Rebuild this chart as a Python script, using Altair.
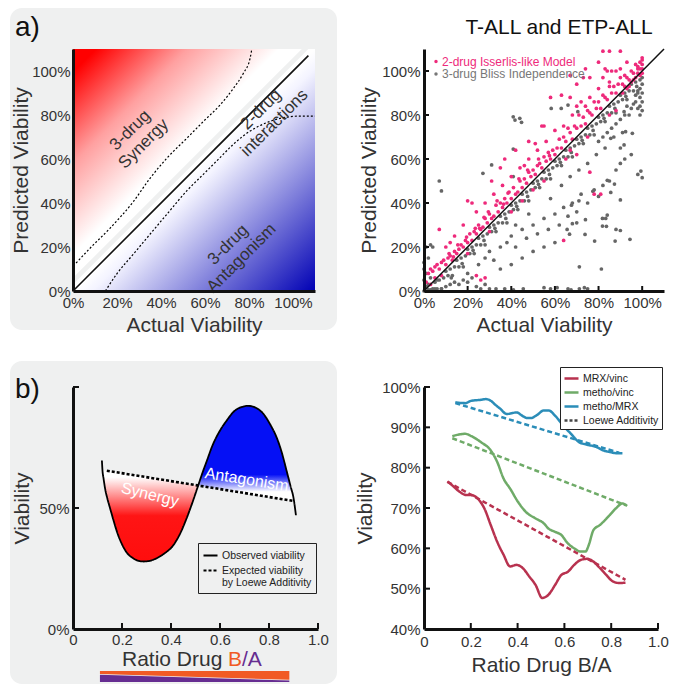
import altair as alt
import pandas as pd

FONT = "Liberation Sans"
TXT = "#333333"
BG = "#eff0f0"
PINK = "#ee2a7b"
GRAY = "#666666"

# ---------------- a) left : schematic ----------------
a_ticks = [0, 20, 40, 60, 80, 100]
diag_x = [0, 107]
diag_y = [0, 107]
syn_dash_x = [1.4, 7.7, 16.8, 27.4, 35, 42.6, 51.7, 59.2, 66.8, 72.9, 77.4, 80.5, 81.2]
syn_dash_y = [12.7, 19.4, 28.5, 40.6, 51.2, 60.3, 69.4, 77, 84.5, 92.1, 98.9, 105.8, 109.5]
ant_dash_x = [14.7, 19.8, 27.4, 35, 42.6, 51.7, 59.2, 66.8, 72.9, 80.5, 88, 95.6, 103.2, 110]
ant_dash_y = [0, 7.6, 16.7, 25.8, 34.8, 45.5, 53, 60.6, 66.7, 72.7, 76.5, 78.8, 79.5, 79.5]
red_x = [0, 104]
red_lo = [6, 110]
red_hi = [110, 110]
blue_x = [0, 107, 110]
blue_lo = [0, 0, 0]
blue_hi = [3, 110, 110]
a_labels = ["3-drug\nSynergy", "2-drug\ninteractions", "3-drug\nAntagonism"]
a_label_x = [26, 85.5, 70.5]
a_label_y = [73, 82.5, 21]

# ---------------- a) right : scatter ----------------
pink_pts = [
    (1,4),(2,8),(3,10),(4,9),(5,11),(6,12),(7,10),(8,13),(9,14),(10,12),(11,15),(12,16),(13,14),(14,18),
    (15,17),(16,19),(7,28),(5,6),(3,3),(8,7),(24,7),(26,5),(28,6),(10,20),(12,22),(14,25),(18,30),
    (17,21),(18,20),(19,23),(20,22),(21,26),(22,23),(23,27),(24,26),(25,30),(26,28),(27,29),(28,33),
    (29,31),(30,35),(31,33),(32,34),(33,39),(34,36),(35,40),(36,38),(37,42),(38,40),(39,45),(40,42),
    (41,47),(42,44),(43,45),(44,50),(45,47),(46,51),(47,49),(48,54),(49,52),(50,55),(51,53),(52,57),
    (53,58),(54,56),(55,61),(56,59),(57,63),(58,60),(59,64),(60,62),
    (19.5,24.5),(23.5,28.5),(27.5,33.5),(33.5,41),(38.5,44.5),(43.5,51),(47.5,55),(52.5,60),(57.5,61.5),
    (36.5,39.5),(29.5,36),(25.5,28.5),(15.5,21),(11.5,17),(13.5,15.5),
    (24,36),(28,40),(32,44),(36,48),(40,52),(44,56),(46,57),(48,60),(52,64),(56,68),(60,73),(20,41),
    (22,40),(31,50),(35,56),(37,60),(42,64),(48,68),(51,67),(55,75),(54,75),(63,89),(58,88),(67,88),
    (70,94),(67,98),(73,97),(74,101),(76,97),(80,104),(83,101),(84,100),(82,109),(85,109),(90,109),
    (64,23),(78,44),(67,64),(70,62),(76,54),(81,44),(50,46),(55,50),(65,60),(75,70),(85,80),(88,82),
    (30,27),(40,36),(20,17),(45,41),
    (61,65),(62,69),(63,65),(64,70),(65,68),(66,74),(67,72),(68,69),(69,75),(70,74),(71,80),(72,75),
    (73,79),(74,76),(75,82),(76,81),(77,80),(78,86),(79,83),(80,86),(81,83),(82,89),(83,88),(84,87),
    (85,93),(86,90),(87,93),(88,90),(89,94),(90,97),(91,94),(92,98),(93,97),(94,96),(95,100),(96,99),
    (97,103),(98,102),(99,101),(100,105),(100,101),(99,98),(100,99),(98,99),(97,97),(96,96),(99,104),
    (100,103),(100,106),(98,101),(95,95),(94,93),(93,92),(92,93),(91,90),(64,75),(68,80),(72,86),
    (76,88),(80,92),(85,95),(88,100),(74,84),(70,84),(82,97),(86,100),(90,101),(93,104),
]
gray_pts = [
    (2,0.5),(3,0.5),(4,1),(5,4),(6,1),(7,5),(8,1),(9,6),(10,9),(11,7),(12,10),(13,7),(14,11),(15,14),
    (16,11),(17,15),(18,11),(19,16),(20,19),(21,17),(22,20),(23,17),(24,21),(25,24),(26,21),(27,25),
    (28,21),(29,26),(30,29),(31,27),(32,30),(33,27),(34,31),(35,34),(36,31),(37,35),(38,31),(39,36),
    (40,39),(41,37),(42,40),(43,37),(44,41),(45,44),(46,41),(47,45),(48,41),(49,46),(50,49),(51,47),
    (52,50),(53,47),(54,51),(55,54),(56,51),(57,55),(58,51),(59,56),(60,59),(61,57),(62,60),(63,57),
    (64,61),(65,64),(66,61),(67,65),(68,61),(69,66),(70,69),(71,67),(72,70),(73,67),(74,71),(75,74),
    (76,71),(77,75),(78,71),(79,76),(80,79),(81,77),(82,80),(83,77),(84,81),(85,84),(86,81),(87,85),
    (88,81),(89,86),(90,89),(91,87),(92,90),(93,87),(94,91),(95,94),(96,91),(97,95),(98,91),
    (12.5,6),(17.5,12.5),(22.5,18.5),(27.5,23),(32.5,28.5),(37.5,33),(42.5,38.5),(47.5,43),(52.5,48.5),
    (57.5,53),(62.5,58.5),(67.5,63),(72.5,68.5),(77.5,73),(82.5,78.5),(87.5,83),(92.5,88.5),(97.5,93),
    (99,80),(100,82),(99,84),(100,86),(99,88),(100,90),(99,92),(100,94),(98,90),(97,86),(98,83),
    (100,97),(99,96),(97,89),(96,85),(95,83),(94,80),(93,84),(92,80),(90,78),(88,76),(86,74),(84,72),
    (82,70),(80,68),
    (0,0),(1,2),(2,3),(0,5),(1,8),(0,10),(0,13),(1,20),(3,21),(4,20),(2,15),(3,6),(5,1),(6,5),(8,1),
    (10,2),(12,3),(14,4),(16,3),(18,5),(20,4),(22,6),(24,2),(26,1),(28,3),(30,1),(33,1),(7,50),(8,45.5),
    (20,8),(25,12),(28,15),(30,18),(32,14),(35,20),(38,22),(40,25),(42,20),(45,28),(47,24),(50,30),
    (52,26),(55,33),(57,28),(60,35),(62,30),(64,38),(66,34),(68,40),(70,36),(72,44),(75,40),(78,46),
    (80,43),(82,48),(85,50),(88,55),(90,58),(92,60),(95,62),(35,10),(40,12),(45,15),(50,18),(55,20),
    (60,22),(42,30),(48,35),(58,42),(63,48),(67,52),(71,55),(75,58),(79,62),(83,65),(87,70),(91,72),
    (40.9,79.2),(41.7,77.7),(43.9,78.5),(44.7,76.7),(40.9,64.5),(40.9,52),(31,57.3),(27,53.5),
    (58.3,83),(62.9,83),(66,84.5),(70.5,81.5),(91.7,81.5),(92.4,72.4),(90,65),(95.5,71.7),(85.6,69.4),
    (91.7,66.4),(98,53),(99.4,54.5),(100,51.5),(84,50.3),(87.3,48.6),(85.6,44.8),(90,41.4),(77.4,45.3),
    (71,41),(67.6,39),(74,32.4),(68,30.6),(70,31),(73.8,25.7),(81.8,29.5),(83.6,29.4),(88,28),(90,27.5),
    (94.4,23.5),(87.6,22.7),(78.2,22.7),(65.6,28),(66.7,25.8),(84,34.5),(81.8,33),(83.3,33),
    (71.2,11),(81.3,10),(37,1),(41,0.5),(45.5,1),(55,1.5),(58,1),(61,1.5),(66,1),(67.4,0.5),
    (71.2,1),(73.5,1.5),(75,1),
]

# ---------------- b) left : schematic ----------------
b_ticks = [0, 0.2, 0.4, 0.6, 0.8, 1.0]
obs_x = [0.118, 0.12, 0.125, 0.131, 0.14, 0.151, 0.165, 0.18, 0.2, 0.22, 0.246, 0.27, 0.29, 0.31,
         0.341, 0.37, 0.41, 0.44, 0.464, 0.49, 0.51, 0.53, 0.546, 0.57, 0.6, 0.63, 0.654, 0.69,
         0.715, 0.745, 0.777, 0.805, 0.831, 0.852, 0.872, 0.888, 0.9, 0.91]
obs_y = [0.696, 0.66, 0.62, 0.58, 0.54, 0.50, 0.45, 0.40, 0.35, 0.315, 0.292, 0.281, 0.279, 0.281,
         0.292, 0.31, 0.347, 0.40, 0.458, 0.53, 0.59, 0.65, 0.694, 0.76, 0.82, 0.865, 0.896, 0.918,
         0.922, 0.915, 0.889, 0.845, 0.792, 0.73, 0.653, 0.59, 0.542, 0.47]
exp_x = [0.138, 0.9]
exp_y = [0.654, 0.529]
syn_x = [0.121, 0.125, 0.131, 0.14, 0.151, 0.165, 0.18, 0.2, 0.22, 0.246, 0.27, 0.29, 0.31, 0.341,
         0.37, 0.41, 0.44, 0.464, 0.49, 0.512]
syn_obs = [0.656, 0.62, 0.58, 0.54, 0.50, 0.45, 0.40, 0.35, 0.315, 0.292, 0.281, 0.279, 0.281, 0.292,
           0.31, 0.347, 0.40, 0.458, 0.53, 0.593]
syn_exp = [0.657, 0.656, 0.655, 0.654, 0.652, 0.650, 0.647, 0.644, 0.641, 0.636, 0.632, 0.629, 0.626,
           0.621, 0.616, 0.609, 0.604, 0.600, 0.596, 0.593]
ant_x = [0.512, 0.53, 0.546, 0.57, 0.6, 0.63, 0.654, 0.69, 0.715, 0.745, 0.777, 0.805, 0.831, 0.852,
         0.872, 0.888, 0.9, 0.902]
ant_obs = [0.593, 0.65, 0.694, 0.76, 0.82, 0.865, 0.896, 0.918, 0.922, 0.915, 0.889, 0.845, 0.792,
           0.73, 0.653, 0.59, 0.542, 0.528]
ant_exp = [0.5925, 0.5895, 0.587, 0.583, 0.578, 0.573, 0.569, 0.563, 0.559, 0.554, 0.549, 0.544,
           0.540, 0.537, 0.533, 0.531, 0.529, 0.528]
bar_x = [0.11, 0.883]
orange_lo = [-0.186, -0.21]
orange_hi = [-0.174, -0.174]
purple_lo = [-0.219, -0.219]
purple_hi = [-0.189, -0.213]

# ---------------- b) right : curves ----------------
series_names = ["MRX/vinc", "metho/vinc", "metho/MRX", "Loewe Additivity"]
series_colors = ["#b8324f", "#6fab68", "#2b8db8", "#444444"]
mrx_vinc_x = [0.1, 0.121, 0.148, 0.182, 0.203, 0.23, 0.258, 0.285, 0.313, 0.34, 0.368, 0.395, 0.422,
              0.45, 0.477, 0.505, 0.532, 0.56, 0.587, 0.615, 0.642, 0.669, 0.697, 0.724, 0.752,
              0.779, 0.807, 0.834, 0.861]
mrx_vinc_y = [76.6, 75.6, 74.2, 73.2, 73.2, 72.3, 69.9, 65.8, 61.6, 58.4, 55.5, 55.9, 55.1, 53.0,
              50.9, 47.7, 48.5, 50.9, 53.4, 54.2, 55.9, 57.1, 57.4, 56.7, 55.1, 53.4, 51.8, 51.4, 51.5]
metho_vinc_x = [0.121, 0.148, 0.176, 0.203, 0.244, 0.285, 0.313, 0.34, 0.368, 0.402, 0.436, 0.477,
                0.512, 0.532, 0.56, 0.587, 0.615, 0.642, 0.669, 0.69, 0.704, 0.724, 0.752, 0.793,
                0.82, 0.848, 0.868]
metho_vinc_y = [87.8, 88.2, 88.4, 87.8, 86.3, 84.3, 81.4, 77.3, 74.8, 71.5, 69.0, 67.4, 66.2, 64.9,
                64.1, 63.3, 61.2, 60.0, 59.2, 59.2, 60.8, 64.5, 65.8, 68.2, 69.9, 71.1, 70.5]
metho_mrx_x = [0.134, 0.176, 0.203, 0.24, 0.265, 0.285, 0.305, 0.326, 0.354, 0.375, 0.395, 0.422,
               0.44, 0.457, 0.484, 0.512, 0.532, 0.56, 0.594, 0.628, 0.663, 0.697, 0.738, 0.765,
               0.793, 0.82, 0.848]
metho_mrx_y = [96.2, 96.0, 96.6, 96.8, 97.0, 96.6, 95.6, 94.6, 93.3, 93.5, 93.7, 92.8, 92.3, 92.3,
               93.1, 94.2, 94.2, 92.9, 90.5, 88.4, 86.3, 85.7, 85.1, 84.3, 83.9, 83.6, 83.6]
loewe_x = {"MRX/vinc": [0.1, 0.861], "metho/vinc": [0.121, 0.861], "metho/MRX": [0.134, 0.834]}
loewe_y = {"MRX/vinc": [76.5, 52.2], "metho/vinc": [87.3, 70.7], "metho/MRX": [96.0, 83.7]}
br_yticks = [40, 50, 60, 70, 80, 90, 100]


# ---------------- helpers ----------------
def pct_axis(title, ticks, title_pad=2, label_pad=4):
    return alt.Axis(title=title, values=ticks, labelExpr="datum.value + '%'", grid=False, ticks=False,
                    domainColor="#111", domainWidth=3, labelFontSize=15, labelColor=TXT,
                    titleFontSize=21, titleColor=TXT, titleFontWeight="normal", labelPadding=label_pad,
                    titlePadding=title_pad, labelFlush=False, labelOverlap=False, zindex=2)


def ratio_axis(title, label_pad=5):
    return alt.Axis(title=title, values=b_ticks,
                    labelExpr="datum.value == 0 ? '0' : format(datum.value, '.1f')", grid=False,
                    ticks=False, domainColor="#111", domainWidth=3, labelFontSize=15, labelColor=TXT,
                    titleFontSize=21, titleColor=TXT, titleFontWeight="normal", labelPadding=label_pad,
                    titlePadding=5, labelFlush=False, labelOverlap=False, zindex=2)


def q(ch, field, domain, axis, rng=None):
    cls = alt.X if ch == "x" else alt.Y
    if rng is None:
        sc = alt.Scale(domain=domain, nice=False, zero=False)
    else:
        sc = alt.Scale(domain=domain, nice=False, zero=False, range=rng)
    return cls(field, type="quantitative", scale=sc, axis=axis)


one = pd.DataFrame({"d": [0]})


def bg_rect(x1, x2, y1, y2):
    return alt.Chart(one).mark_rect(color=BG, cornerRadius=12).encode(
        x=alt.value(x1), x2=alt.value(x2), y=alt.value(y1), y2=alt.value(y2))


def label(txt, x, y, size, color="#111", align="left", baseline="alphabetic"):
    return alt.Chart(one).mark_text(text=txt, fontSize=size, color=color, align=align,
                                    baseline=baseline, font=FONT).encode(x=alt.value(x), y=alt.value(y))


# ================= panel a-left =================
AD = [0, 110]
ax_a = pct_axis("Actual Viability", a_ticks, 4)
ay_a = pct_axis("Predicted Viability", a_ticks, 0, 3)
XA = lambda f: q("x", f, AD, ax_a, [0, 242])
YA = lambda f: q("y", f, AD, ay_a)

red_grad = alt.Gradient(gradient="linear", x1=0, y1=0, x2=0.5, y2=0.5, stops=[
    alt.GradientStop(color="#ff0000", offset=0), alt.GradientStop(color="#ff0000", offset=0.1),
    alt.GradientStop(color="#ffa0a0", offset=0.5), alt.GradientStop(color="#ffffff", offset=0.9),
    alt.GradientStop(color="#ffffff", offset=1)])
blue_grad = alt.Gradient(gradient="linear", x1=0.5, y1=0.5, x2=1, y2=1, stops=[
    alt.GradientStop(color="#ffffff", offset=0), alt.GradientStop(color="#f4f4ff", offset=0.08),
    alt.GradientStop(color="#0000b4", offset=1)])

red_area = alt.Chart(pd.DataFrame({"x": red_x, "lo": red_lo, "hi": red_hi})).mark_area(
    color=red_grad).encode(x=XA("x"), y=YA("lo"), y2="hi")
blue_area = alt.Chart(pd.DataFrame({"x": blue_x, "lo": blue_lo, "hi": blue_hi})).mark_area(
    color=blue_grad).encode(x=XA("x"), y=YA("lo"), y2="hi")
syn_dash = alt.Chart(pd.DataFrame({"x": syn_dash_x, "y": syn_dash_y})).mark_line(
    color="black", strokeDash=[2, 2], strokeWidth=1.2, interpolate="monotone").encode(x=XA("x"), y=YA("y"))
ant_dash = alt.Chart(pd.DataFrame({"x": ant_dash_x, "y": ant_dash_y})).mark_line(
    color="black", strokeDash=[2, 2], strokeWidth=1.2, interpolate="monotone").encode(x=XA("x"), y=YA("y"))
diag_a = alt.Chart(pd.DataFrame({"x": diag_x, "y": diag_y})).mark_line(
    color="#111", strokeWidth=1.6).encode(x=XA("x"), y=YA("y"))
a_txt = alt.Chart(pd.DataFrame({"x": a_label_x, "y": a_label_y, "t": a_labels})).mark_text(
    angle=315, fontSize=17, color=TXT, lineBreak="\n", align="center", baseline="middle",
    font=FONT).encode(x=XA("x"), y=YA("y"), text="t:N")

a_left = alt.layer(
    bg_rect(-63, 264, -41, 281), red_area, blue_area, syn_dash, ant_dash, diag_a, a_txt,
    label("a)", -58, -35, 28, baseline="top"),
).properties(width=235, height=242)

# ================= panel a-right =================
ax_b = pct_axis("Actual Viability", a_ticks, 4)
ay_b = pct_axis("Predicted Viability", a_ticks, 2)
XB = lambda f: q("x", f, AD, ax_b)
YB = lambda f: q("y", f, AD, ay_b)

gray_df = pd.DataFrame({"x": [p[0] for p in gray_pts], "y": [p[1] for p in gray_pts]})
pink_df = pd.DataFrame({"x": [p[0] for p in pink_pts], "y": [p[1] for p in pink_pts]})
gray_layer = alt.Chart(gray_df).mark_circle(size=14, opacity=1, color=GRAY).encode(x=XB("x"), y=YB("y"))
pink_layer = alt.Chart(pink_df).mark_circle(size=14, opacity=1, color=PINK).encode(x=XB("x"), y=YB("y"))
diag_b = alt.Chart(pd.DataFrame({"x": [0, 110], "y": [0, 110]})).mark_line(
    color="#111", strokeWidth=1.5).encode(x=XB("x"), y=YB("y"))
tick_df_a = pd.DataFrame({"v": a_ticks})
xt_b = alt.Chart(tick_df_a).mark_rule(color="#111", strokeWidth=2).encode(
    x=XB("v"), y=alt.value(242), y2=alt.value(237))
yt_b = alt.Chart(tick_df_a).mark_rule(color="#111", strokeWidth=2).encode(
    y=YB("v"), x=alt.value(0), x2=alt.value(5))

a_right = alt.layer(
    gray_layer, pink_layer, diag_b, xt_b, yt_b,
    alt.Chart(one).mark_circle(size=12, opacity=1, color=PINK).encode(x=alt.value(12), y=alt.value(12.5)),
    alt.Chart(one).mark_circle(size=12, opacity=1, color="#777777").encode(x=alt.value(12), y=alt.value(25)),
    label("2-drug Isserlis-like Model", 18, 12.5, 12, PINK, baseline="middle"),
    label("3-drug Bliss Independence", 18, 25, 12, "#777777", baseline="middle"),
    label("T-ALL and ETP-ALL", 135, -15, 21, "#111", align="center"),
).properties(width=240, height=242)

# ================= panel b-left =================
ax_c = ratio_axis(None, 3)
ay_c = alt.Axis(title="Viability", values=[0, 0.5, 1],
                labelExpr="datum.value == 1 ? '' : format(datum.value, '.0%')", grid=False, ticks=False,
                domainColor="#111", domainWidth=3, labelFontSize=15, labelColor=TXT, titleFontSize=21,
                titleColor=TXT, titleFontWeight="normal", labelPadding=4, titlePadding=6,
                labelFlush=False, labelOverlap=False, zindex=2)
XC = lambda f: q("x", f, [0, 1], ax_c, [0, 245])
YC = lambda f: q("y", f, [0, 1], ay_c)

syn_grad = alt.Gradient(gradient="linear", x1=0, y1=0, x2=0, y2=1, stops=[
    alt.GradientStop(color="#ffffff", offset=0), alt.GradientStop(color="#ffffff", offset=0.08),
    alt.GradientStop(color="#ff1515", offset=0.5), alt.GradientStop(color="#ff0d0d", offset=1)])
ant_grad = alt.Gradient(gradient="linear", x1=0, y1=0, x2=0, y2=1, stops=[
    alt.GradientStop(color="#0510f5", offset=0), alt.GradientStop(color="#0510f5", offset=0.72),
    alt.GradientStop(color="#ffffff", offset=0.9), alt.GradientStop(color="#ffffff", offset=1)])

syn_fill = alt.Chart(pd.DataFrame({"x": syn_x, "lo": syn_obs, "hi": syn_exp})).mark_area(
    color=syn_grad, interpolate="monotone").encode(x=XC("x"), y=YC("lo"), y2="hi")
ant_fill = alt.Chart(pd.DataFrame({"x": ant_x, "lo": ant_exp, "hi": ant_obs})).mark_area(
    color=ant_grad, interpolate="monotone").encode(x=XC("x"), y=YC("hi"), y2="lo")

kinds = ["Observed viability", "Expected viability by Loewe Additivity"]
leg_c = alt.Legend(title=None, orient="none", legendX=125, legendY=156, symbolType="stroke",
                   symbolSize=196, symbolStrokeWidth=2.2, symbolStrokeColor="black", labelFontSize=10.5,
                   labelColor="#222", labelFont=FONT, strokeColor="#222", padding=4, rowPadding=1,
                   labelOffset=3, labelLimit=300,
                   labelExpr="datum.label == 'Expected viability by Loewe Additivity' ? "
                             "['Expected viability', 'by Loewe Additivity'] : datum.label")
dash_c = alt.StrokeDash("kind:N", scale=alt.Scale(domain=kinds, range=[[1, 0], [3, 2]]), legend=leg_c)
obs_line = alt.Chart(pd.DataFrame({"x": obs_x, "y": obs_y, "kind": kinds[0]})).mark_line(
    color="black", strokeWidth=1.8, interpolate="monotone").encode(x=XC("x"), y=YC("y"), strokeDash=dash_c)
exp_line = alt.Chart(pd.DataFrame({"x": exp_x, "y": exp_y, "kind": kinds[1]})).mark_line(
    color="black", strokeWidth=2.6).encode(x=XC("x"), y=YC("y"), strokeDash=dash_c)

b_txt = alt.Chart(pd.DataFrame({"x": [0.314, 0.709], "y": [0.555, 0.617], "t": ["Synergy", "Antagonism"],
                                "a": [14, 9]})).mark_text(
    fontSize=16, color="white", align="center", baseline="middle", font=FONT).encode(
    x=XC("x"), y=YC("y"), text="t:N", angle=alt.Angle("a:Q", scale=None))

tick_df_b = pd.DataFrame({"v": b_ticks[1:]})
xt_c = alt.Chart(tick_df_b).mark_rule(color="#111", strokeWidth=2).encode(
    x=XC("v"), y=alt.value(242), y2=alt.value(236))
yt_c = alt.Chart(pd.DataFrame({"v": [0.5, 1.0]})).mark_rule(color="#111", strokeWidth=2).encode(
    y=YC("v"), x=alt.value(0), x2=alt.value(6))

orange_bar = alt.Chart(pd.DataFrame({"x": bar_x, "lo": orange_lo, "hi": orange_hi})).mark_area(
    color="#f15a24").encode(x=XC("x"), y=YC("lo"), y2="hi")
purple_bar = alt.Chart(pd.DataFrame({"x": bar_x, "lo": purple_lo, "hi": purple_hi})).mark_area(
    color="#662d91").encode(x=XC("x"), y=YC("lo"), y2="hi")

b_left = alt.layer(
    bg_rect(-63, 264, -26, 297), syn_fill, ant_fill, obs_line, exp_line, b_txt, xt_c, yt_c,
    orange_bar, purple_bar,
    label("b)", -58, 11, 28),
    label("Ratio Drug", 49, 279, 21, TXT),
    label("B", 155, 279, 21, "#f15a24"),
    label("/A", 169, 279, 21, "#662d91"),
).properties(width=235, height=242)

# ================= panel b-right =================
ax_d = ratio_axis("Ratio Drug B/A")
ay_d = pct_axis("Viability", br_yticks, 6)
XD = lambda f: q("x", f, [0, 1], ax_d)
YD = lambda f: q("y", f, [40, 100], ay_d)

leg_d = alt.Legend(title=None, orient="none", legendX=136, legendY=-20, symbolType="stroke",
                   symbolSize=196, symbolStrokeWidth=2.5, labelFontSize=10.5, labelColor="#222",
                   labelFont=FONT, strokeColor="#222", padding=3, rowPadding=0, labelOffset=3,
                   fillColor="white")
col_d = alt.Color("series:N", scale=alt.Scale(domain=series_names, range=series_colors), legend=leg_d)
dash_d = alt.StrokeDash("series:N", scale=alt.Scale(domain=series_names,
                                                     range=[[1, 0], [1, 0], [1, 0], [3, 2]]), legend=leg_d)

solid_df = pd.concat([
    pd.DataFrame({"x": mrx_vinc_x, "y": mrx_vinc_y, "series": "MRX/vinc"}),
    pd.DataFrame({"x": metho_vinc_x, "y": metho_vinc_y, "series": "metho/vinc"}),
    pd.DataFrame({"x": metho_mrx_x, "y": metho_mrx_y, "series": "metho/MRX"}),
])
dash_df = pd.concat([pd.DataFrame({"x": loewe_x[s], "y": loewe_y[s], "series": s}) for s in loewe_x])

dash_lines = alt.Chart(dash_df).mark_line(strokeWidth=2.5, strokeDash=[5, 3]).encode(
    x=XD("x"), y=YD("y"), color=col_d)
solid_lines = alt.Chart(solid_df).mark_line(strokeWidth=2.5, interpolate="monotone").encode(
    x=XD("x"), y=YD("y"), color=col_d, strokeDash=dash_d)
xt_d = alt.Chart(tick_df_b).mark_rule(color="#111", strokeWidth=2).encode(
    x=XD("v"), y=alt.value(242), y2=alt.value(236))
yt_d = alt.Chart(pd.DataFrame({"v": br_yticks[1:]})).mark_rule(color="#111", strokeWidth=2).encode(
    y=YD("v"), x=alt.value(0), x2=alt.value(6))

b_right = alt.layer(dash_lines, solid_lines, xt_d, yt_d).properties(width=234, height=242)

chart = alt.concat(
    a_left, a_right, b_left, b_right, columns=2, spacing={"row": 96, "column": 116},
    bounds="flush", align="none",
).resolve_scale(color="independent", strokeDash="independent").resolve_legend(
    color="independent", strokeDash="independent"
).properties(
    padding={"left": 2, "top": 0, "right": 0, "bottom": 0}, background="white"
).configure(font=FONT).configure_view(strokeWidth=0)

chart.save("out.html", embed_options={"renderer": "svg", "actions": False})
